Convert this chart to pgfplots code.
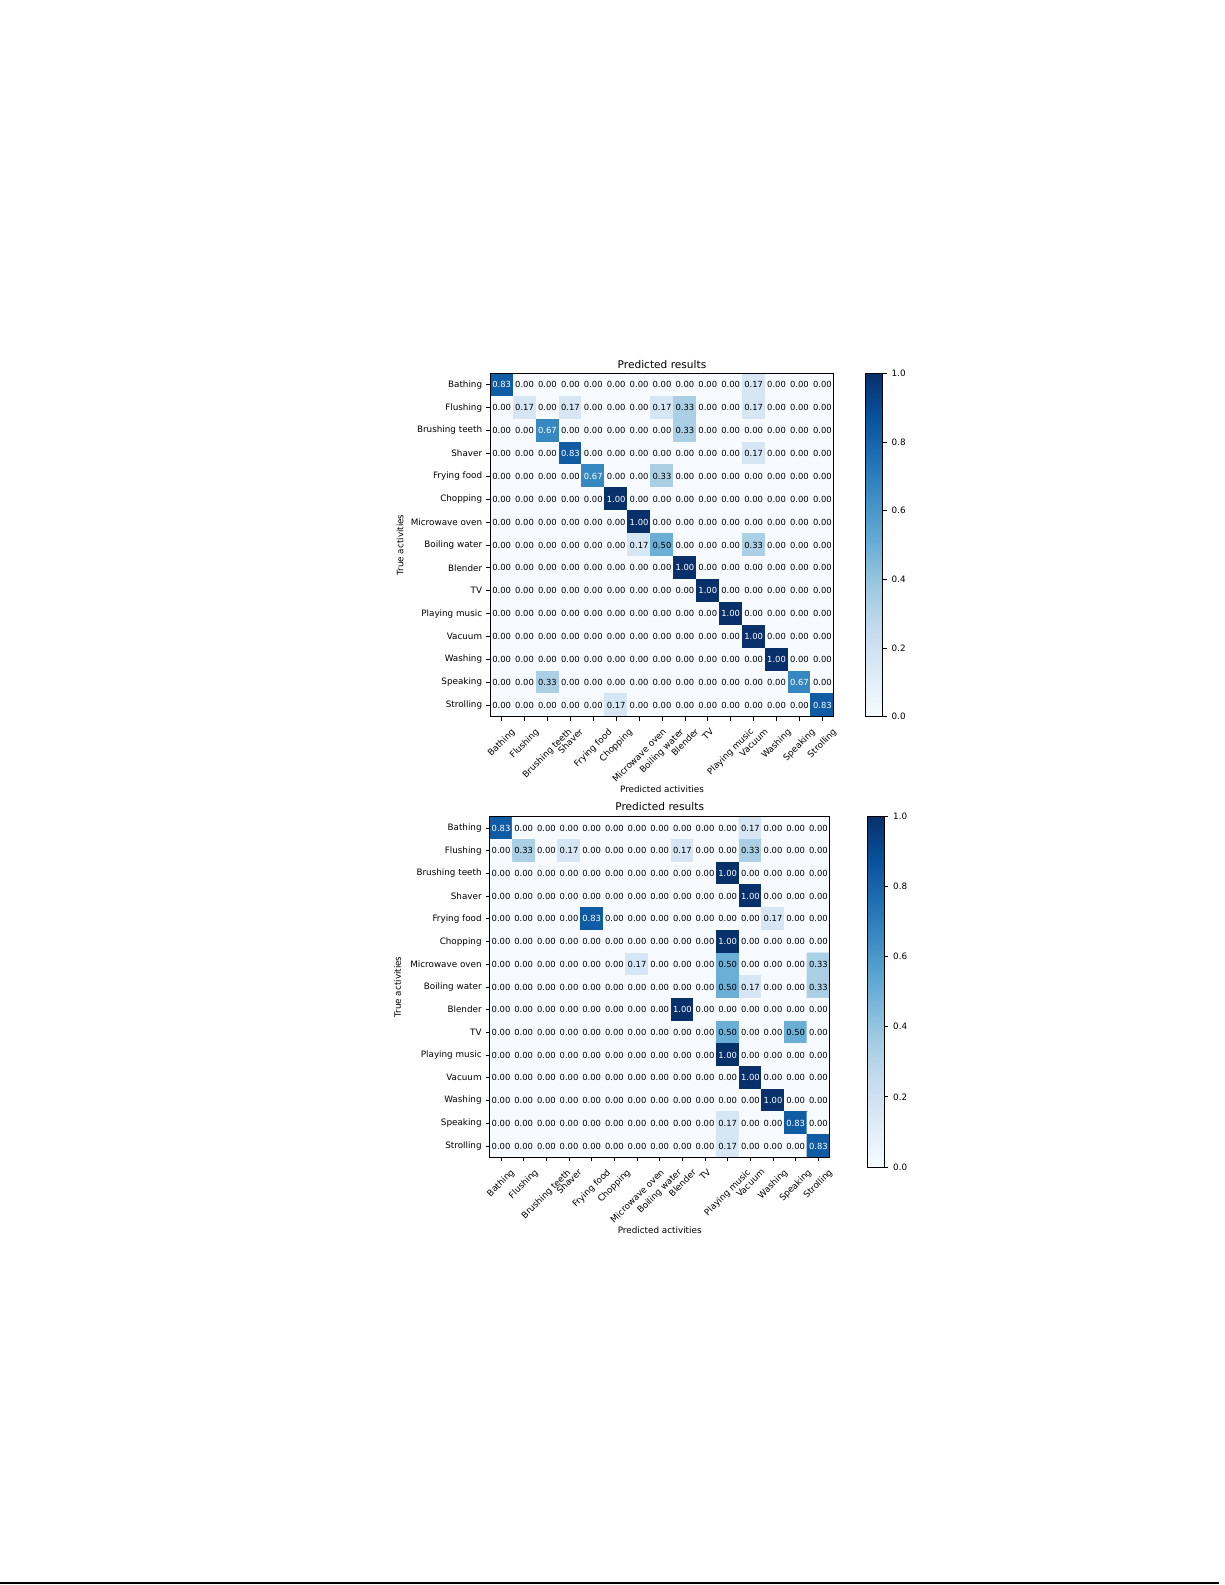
\documentclass[border=0pt]{standalone}
\usepackage{pgfplots}
\usepackage{pgfplotstable}
\usepackage{graphicx}
\usepackage{fontspec}
\pgfplotsset{compat=1.18}
\setmainfont{DejaVu Sans}

\newcommand\fs{\fontsize{4.4}{5.3}\selectfont}
\newcommand\fc{\fontsize{4.2}{5}\selectfont}
\newcommand\ft{\fontsize{5.3}{6.3}\selectfont}
\newcommand\rl[1]{\rotatebox{45}{#1}}

% matplotlib "Blues"
\pgfplotsset{
  colormap={mplblues}{rgb255=(247,251,255) rgb255=(222,235,247) rgb255=(198,219,239)
    rgb255=(158,202,225) rgb255=(107,174,214) rgb255=(66,146,198) rgb255=(33,113,181)
    rgb255=(8,81,156) rgb255=(8,48,107)},
  cmstyle/.style={
    scale only axis,
    anchor=south west,
    xmin=-0.5, xmax=14.5, ymin=-0.5, ymax=14.5,
    y dir=reverse,
    enlargelimits=false,
    axis on top,
    xtick={0,...,14}, ytick={0,...,14},
    xticklabels={\rl{Bathing},\rl{Flushing},\rl{Brushing teeth},\rl{Shaver},\rl{Frying food},
      \rl{Chopping},\rl{Microwave oven},\rl{Boiling water},\rl{Blender},\rl{TV},
      \rl{Playing music},\rl{Vacuum},\rl{Washing},\rl{Speaking},\rl{Strolling}},
    yticklabels={Bathing,Flushing,Brushing teeth,Shaver,Frying food,Chopping,Microwave oven,
      Boiling water,Blender,TV,Playing music,Vacuum,Washing,Speaking,Strolling},
    xtick pos=bottom, ytick pos=left,
    tick align=outside,
    major tick length=2pt,
    tick style={black, line width=0.4pt},
    tick label style={font=\fs},
    xticklabel style={anchor=north},
    yticklabel style={anchor=east, xshift=1.5pt},
    title={Predicted results},
    every axis title/.style={at={(axis description cs:0.5,1)}, anchor=base,
      font=\ft, inner sep=0pt},
    xlabel={Predicted activities},
    ylabel={True activities},
    label style={font=\fs},
    xlabel style={at={(axis description cs:0.5,0)}, anchor=center},
    ylabel style={at={(axis description cs:0,0.5)}, anchor=center},
    colormap name=mplblues,
    point meta min=0, point meta max=1,
    colorbar,
    colorbar style={
      scale only axis,
      at={(parent axis.north east)}, anchor=north west,
      ytick={0,0.2,0.4,0.6,0.8,1},
      ytick pos=right, yticklabel pos=right,
      tick align=outside,
      major tick length=2pt,
      tick style={black, line width=0.4pt},
      yticklabel style={font=\fs, xshift=-1pt, /pgf/number format/fixed, /pgf/number format/zerofill,
        /pgf/number format/precision=1, /pgf/number format/assume math mode=true},
    },
  },
  cells/.style={matrix plot*, mesh/cols=15, point meta=explicit},
  vals/.style={only marks, mark=none, point meta=explicit,
    nodes near coords={\pgfmathprintnumber[fixed,zerofill,precision=2,assume math mode=true]{\pgfplotspointmeta}},
    every node near coord/.append style={font=\fc, inner sep=0pt, anchor=center}},
  dark/.style={vals, restrict expr to domain={\thisrow{c}}{-1:0.5},
    every node near coord/.append style={text=black}},
  light/.style={vals, restrict expr to domain={\thisrow{c}}{0.501:2},
    every node near coord/.append style={text=white}},
}

% first matrix: rows = true activity, columns = predicted
\pgfplotstableread[row sep=\\]{
x y c\\
0 0 0.8333\\ 1 0 0\\ 2 0 0\\ 3 0 0\\ 4 0 0\\ 5 0 0\\ 6 0 0\\ 7 0 0\\ 8 0 0\\ 9 0 0\\ 10 0 0\\ 11 0 0.1667\\ 12 0 0\\ 13 0 0\\ 14 0 0\\
0 1 0\\ 1 1 0.1667\\ 2 1 0\\ 3 1 0.1667\\ 4 1 0\\ 5 1 0\\ 6 1 0\\ 7 1 0.1667\\ 8 1 0.3333\\ 9 1 0\\ 10 1 0\\ 11 1 0.1667\\ 12 1 0\\ 13 1 0\\ 14 1 0\\
0 2 0\\ 1 2 0\\ 2 2 0.6667\\ 3 2 0\\ 4 2 0\\ 5 2 0\\ 6 2 0\\ 7 2 0\\ 8 2 0.3333\\ 9 2 0\\ 10 2 0\\ 11 2 0\\ 12 2 0\\ 13 2 0\\ 14 2 0\\
0 3 0\\ 1 3 0\\ 2 3 0\\ 3 3 0.8333\\ 4 3 0\\ 5 3 0\\ 6 3 0\\ 7 3 0\\ 8 3 0\\ 9 3 0\\ 10 3 0\\ 11 3 0.1667\\ 12 3 0\\ 13 3 0\\ 14 3 0\\
0 4 0\\ 1 4 0\\ 2 4 0\\ 3 4 0\\ 4 4 0.6667\\ 5 4 0\\ 6 4 0\\ 7 4 0.3333\\ 8 4 0\\ 9 4 0\\ 10 4 0\\ 11 4 0\\ 12 4 0\\ 13 4 0\\ 14 4 0\\
0 5 0\\ 1 5 0\\ 2 5 0\\ 3 5 0\\ 4 5 0\\ 5 5 1\\ 6 5 0\\ 7 5 0\\ 8 5 0\\ 9 5 0\\ 10 5 0\\ 11 5 0\\ 12 5 0\\ 13 5 0\\ 14 5 0\\
0 6 0\\ 1 6 0\\ 2 6 0\\ 3 6 0\\ 4 6 0\\ 5 6 0\\ 6 6 1\\ 7 6 0\\ 8 6 0\\ 9 6 0\\ 10 6 0\\ 11 6 0\\ 12 6 0\\ 13 6 0\\ 14 6 0\\
0 7 0\\ 1 7 0\\ 2 7 0\\ 3 7 0\\ 4 7 0\\ 5 7 0\\ 6 7 0.1667\\ 7 7 0.5\\ 8 7 0\\ 9 7 0\\ 10 7 0\\ 11 7 0.3333\\ 12 7 0\\ 13 7 0\\ 14 7 0\\
0 8 0\\ 1 8 0\\ 2 8 0\\ 3 8 0\\ 4 8 0\\ 5 8 0\\ 6 8 0\\ 7 8 0\\ 8 8 1\\ 9 8 0\\ 10 8 0\\ 11 8 0\\ 12 8 0\\ 13 8 0\\ 14 8 0\\
0 9 0\\ 1 9 0\\ 2 9 0\\ 3 9 0\\ 4 9 0\\ 5 9 0\\ 6 9 0\\ 7 9 0\\ 8 9 0\\ 9 9 1\\ 10 9 0\\ 11 9 0\\ 12 9 0\\ 13 9 0\\ 14 9 0\\
0 10 0\\ 1 10 0\\ 2 10 0\\ 3 10 0\\ 4 10 0\\ 5 10 0\\ 6 10 0\\ 7 10 0\\ 8 10 0\\ 9 10 0\\ 10 10 1\\ 11 10 0\\ 12 10 0\\ 13 10 0\\ 14 10 0\\
0 11 0\\ 1 11 0\\ 2 11 0\\ 3 11 0\\ 4 11 0\\ 5 11 0\\ 6 11 0\\ 7 11 0\\ 8 11 0\\ 9 11 0\\ 10 11 0\\ 11 11 1\\ 12 11 0\\ 13 11 0\\ 14 11 0\\
0 12 0\\ 1 12 0\\ 2 12 0\\ 3 12 0\\ 4 12 0\\ 5 12 0\\ 6 12 0\\ 7 12 0\\ 8 12 0\\ 9 12 0\\ 10 12 0\\ 11 12 0\\ 12 12 1\\ 13 12 0\\ 14 12 0\\
0 13 0\\ 1 13 0\\ 2 13 0.3333\\ 3 13 0\\ 4 13 0\\ 5 13 0\\ 6 13 0\\ 7 13 0\\ 8 13 0\\ 9 13 0\\ 10 13 0\\ 11 13 0\\ 12 13 0\\ 13 13 0.6667\\ 14 13 0\\
0 14 0\\ 1 14 0\\ 2 14 0\\ 3 14 0\\ 4 14 0\\ 5 14 0.1667\\ 6 14 0\\ 7 14 0\\ 8 14 0\\ 9 14 0\\ 10 14 0\\ 11 14 0\\ 12 14 0\\ 13 14 0\\ 14 14 0.8333\\
}\cmA

% second matrix
\pgfplotstableread[row sep=\\]{
x y c\\
0 0 0.8333\\ 1 0 0\\ 2 0 0\\ 3 0 0\\ 4 0 0\\ 5 0 0\\ 6 0 0\\ 7 0 0\\ 8 0 0\\ 9 0 0\\ 10 0 0\\ 11 0 0.1667\\ 12 0 0\\ 13 0 0\\ 14 0 0\\
0 1 0\\ 1 1 0.3333\\ 2 1 0\\ 3 1 0.1667\\ 4 1 0\\ 5 1 0\\ 6 1 0\\ 7 1 0\\ 8 1 0.1667\\ 9 1 0\\ 10 1 0\\ 11 1 0.3333\\ 12 1 0\\ 13 1 0\\ 14 1 0\\
0 2 0\\ 1 2 0\\ 2 2 0\\ 3 2 0\\ 4 2 0\\ 5 2 0\\ 6 2 0\\ 7 2 0\\ 8 2 0\\ 9 2 0\\ 10 2 1\\ 11 2 0\\ 12 2 0\\ 13 2 0\\ 14 2 0\\
0 3 0\\ 1 3 0\\ 2 3 0\\ 3 3 0\\ 4 3 0\\ 5 3 0\\ 6 3 0\\ 7 3 0\\ 8 3 0\\ 9 3 0\\ 10 3 0\\ 11 3 1\\ 12 3 0\\ 13 3 0\\ 14 3 0\\
0 4 0\\ 1 4 0\\ 2 4 0\\ 3 4 0\\ 4 4 0.8333\\ 5 4 0\\ 6 4 0\\ 7 4 0\\ 8 4 0\\ 9 4 0\\ 10 4 0\\ 11 4 0\\ 12 4 0.1667\\ 13 4 0\\ 14 4 0\\
0 5 0\\ 1 5 0\\ 2 5 0\\ 3 5 0\\ 4 5 0\\ 5 5 0\\ 6 5 0\\ 7 5 0\\ 8 5 0\\ 9 5 0\\ 10 5 1\\ 11 5 0\\ 12 5 0\\ 13 5 0\\ 14 5 0\\
0 6 0\\ 1 6 0\\ 2 6 0\\ 3 6 0\\ 4 6 0\\ 5 6 0\\ 6 6 0.1667\\ 7 6 0\\ 8 6 0\\ 9 6 0\\ 10 6 0.5\\ 11 6 0\\ 12 6 0\\ 13 6 0\\ 14 6 0.3333\\
0 7 0\\ 1 7 0\\ 2 7 0\\ 3 7 0\\ 4 7 0\\ 5 7 0\\ 6 7 0\\ 7 7 0\\ 8 7 0\\ 9 7 0\\ 10 7 0.5\\ 11 7 0.1667\\ 12 7 0\\ 13 7 0\\ 14 7 0.3333\\
0 8 0\\ 1 8 0\\ 2 8 0\\ 3 8 0\\ 4 8 0\\ 5 8 0\\ 6 8 0\\ 7 8 0\\ 8 8 1\\ 9 8 0\\ 10 8 0\\ 11 8 0\\ 12 8 0\\ 13 8 0\\ 14 8 0\\
0 9 0\\ 1 9 0\\ 2 9 0\\ 3 9 0\\ 4 9 0\\ 5 9 0\\ 6 9 0\\ 7 9 0\\ 8 9 0\\ 9 9 0\\ 10 9 0.5\\ 11 9 0\\ 12 9 0\\ 13 9 0.5\\ 14 9 0\\
0 10 0\\ 1 10 0\\ 2 10 0\\ 3 10 0\\ 4 10 0\\ 5 10 0\\ 6 10 0\\ 7 10 0\\ 8 10 0\\ 9 10 0\\ 10 10 1\\ 11 10 0\\ 12 10 0\\ 13 10 0\\ 14 10 0\\
0 11 0\\ 1 11 0\\ 2 11 0\\ 3 11 0\\ 4 11 0\\ 5 11 0\\ 6 11 0\\ 7 11 0\\ 8 11 0\\ 9 11 0\\ 10 11 0\\ 11 11 1\\ 12 11 0\\ 13 11 0\\ 14 11 0\\
0 12 0\\ 1 12 0\\ 2 12 0\\ 3 12 0\\ 4 12 0\\ 5 12 0\\ 6 12 0\\ 7 12 0\\ 8 12 0\\ 9 12 0\\ 10 12 0\\ 11 12 0\\ 12 12 1\\ 13 12 0\\ 14 12 0\\
0 13 0\\ 1 13 0\\ 2 13 0\\ 3 13 0\\ 4 13 0\\ 5 13 0\\ 6 13 0\\ 7 13 0\\ 8 13 0\\ 9 13 0\\ 10 13 0.1667\\ 11 13 0\\ 12 13 0\\ 13 13 0.8333\\ 14 13 0\\
0 14 0\\ 1 14 0\\ 2 14 0\\ 3 14 0\\ 4 14 0\\ 5 14 0\\ 6 14 0\\ 7 14 0\\ 8 14 0\\ 9 14 0\\ 10 14 0.1667\\ 11 14 0\\ 12 14 0\\ 13 14 0\\ 14 14 0.8333\\
}\cmB

\begin{document}
\begin{tikzpicture}
\useasboundingbox (0,0) rectangle (612.5pt,792.5pt);

\begin{axis}[cmstyle,
  at={(245.1pt,434.15pt)}, width=171.8pt, height=171.7pt,
  title style={yshift=2.5pt},
  xlabel style={yshift=-36.3pt},
  ylabel style={yshift=45.1pt},
  colorbar style={width=8.7pt, height=171.7pt, xshift=7.15pt},
]
\addplot[cells] table[meta=c] {\cmA};
\addplot[dark] table[meta=c] {\cmA};
\addplot[light] table[meta=c] {\cmA};
\end{axis}

\begin{axis}[cmstyle,
  at={(244.85pt,213.85pt)}, width=170pt, height=170.3pt,
  title style={yshift=3pt},
  xlabel style={yshift=-36.7pt},
  ylabel style={yshift=46.1pt},
  colorbar style={width=8.5pt, height=175.5pt, xshift=10.2pt, yshift=0.3pt},
]
\addplot[cells] table[meta=c] {\cmB};
\addplot[dark] table[meta=c] {\cmB};
\addplot[light] table[meta=c] {\cmB};
\end{axis}

\draw[line width=0.65pt] (0pt,1pt) -- (609.5pt,1pt);
\end{tikzpicture}
\end{document}
